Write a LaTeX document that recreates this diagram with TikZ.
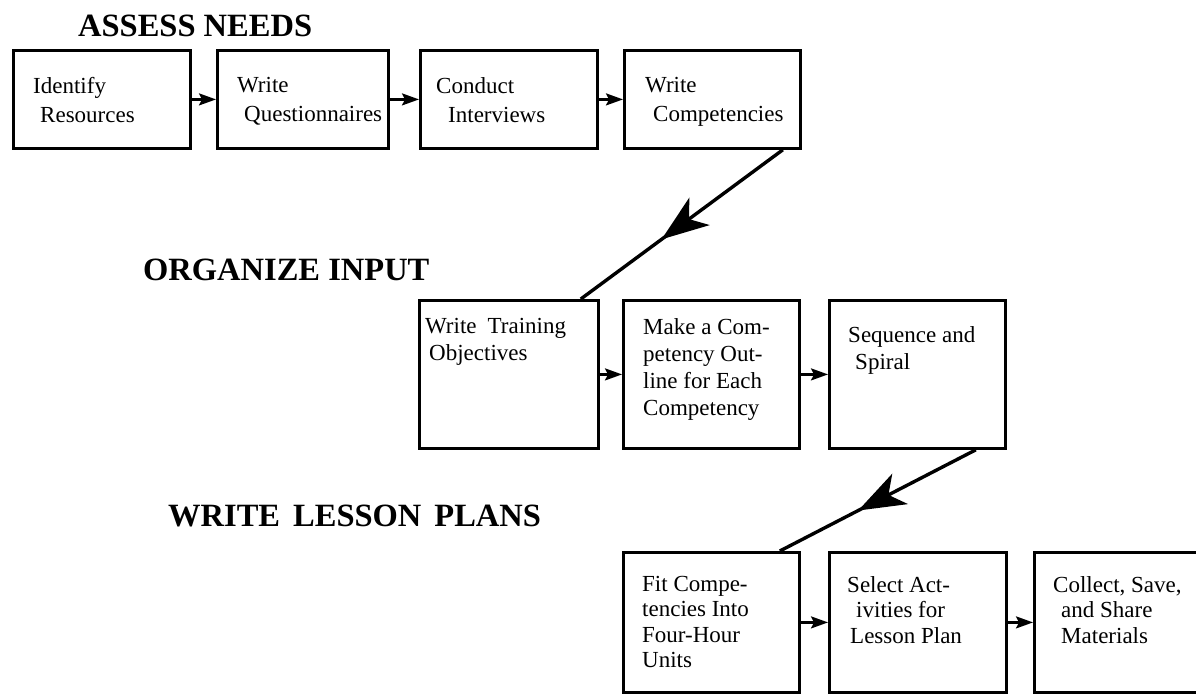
\documentclass[tikz,border=0pt]{standalone}
\usepackage{fontspec}
\setmainfont{Liberation Serif}
\usetikzlibrary{arrows.meta,decorations.markings}
\begin{document}
\begin{tikzpicture}[x=1pt,y=-1pt,
  box/.style={draw,line width=2.8pt,rectangle,inner sep=0pt,anchor=north west},
  boxtext/.style={anchor=north west,inner sep=0pt,align=left,font=\fontsize{23}{27}\selectfont},
  phase/.style={anchor=base west,inner sep=0pt,font=\fontsize{32.5}{38}\selectfont\bfseries},
  flow/.style={line width=2.2pt,-{Stealth[length=17pt,width=12pt,inset=3pt]}},
  bigflow/.style={line width=3.4pt,postaction={decorate},
    decoration={markings,mark=at position 0.6 with {\arrow{Stealth[length=47pt,width=34pt,inset=13pt]}}}},
]
\useasboundingbox (0,0) rectangle (1196,694);

% phase headings
\node[phase] (h1) at (78,36) {ASSESS NEEDS};
\node[phase] (h2) at (143,280) {ORGANIZE INPUT};
\node[phase] (h3) at (168,526) {WRITE\hspace{13pt}LESSON\hspace{13pt}PLANS};

% assess needs
\node[box,minimum width=177pt,minimum height=98pt] (b1) at (12,49) {};
\node[box,minimum width=171pt,minimum height=98pt] (b2) at (216,49) {};
\node[box,minimum width=177pt,minimum height=98pt] (b3) at (419,49) {};
\node[box,minimum width=176pt,minimum height=98pt] (b4) at (623,49) {};
\node[boxtext,font=\fontsize{23}{29}\selectfont] (t1) at (33,77) {Identify\\\hspace*{7pt}Resources};
\node[boxtext,font=\fontsize{23}{29}\selectfont] (t2) at (237,77) {Write\\\hspace*{7pt}Questionnaires};
\node[boxtext,font=\fontsize{23}{29}\selectfont] (t3) at (436,77) {Conduct\\\hspace*{12pt}Interviews};
\node[boxtext,font=\fontsize{23}{29}\selectfont] (t4) at (645,77) {Write\\\hspace*{8pt}Competencies};

% organize input
\node[box,minimum width=179pt,minimum height=148pt] (b5) at (418,299) {};
\node[box,minimum width=176pt,minimum height=148pt] (b6) at (622,299) {};
\node[box,minimum width=176pt,minimum height=148pt] (b7) at (828,299) {};
\node[boxtext] (t5) at (425,318) {Write\hspace{11pt}Training\\\hspace*{4pt}Objectives};
\node[boxtext] (t6) at (643,318) {Make a Com-\\petency Out-\\line for Each\\Competency};
\node[boxtext] (t7) at (848,326) {Sequence and\\\hspace*{7pt}Spiral};

% write lesson plans
\node[box,minimum width=176pt,minimum height=140pt] (b8) at (622,551) {};
\node[box,minimum width=177pt,minimum height=140pt] (b9) at (828,551) {};
\node[box,minimum width=176pt,minimum height=140pt] (b10) at (1033,551) {};
\node[boxtext,font=\fontsize{23}{25.5}\selectfont] (t8) at (642,576) {Fit Compe-\\tencies Into\\Four-Hour\\Units};
\node[boxtext,font=\fontsize{23}{25.5}\selectfont] (t9) at (847,576) {Select Act-\\\hspace*{9pt}ivities for\\\hspace*{3pt}Lesson Plan};
\node[boxtext,font=\fontsize{23}{25.5}\selectfont] (t10) at (1053,576) {Collect, Save,\\\hspace*{8pt}and Share\\\hspace*{8pt}Materials};

% connectors within each phase
\draw[flow] (b1.east) -- (b2.west);
\draw[flow] (b2.east) -- (b3.west);
\draw[flow] (b3.east) -- (b4.west);
\draw[flow] (b5.east) -- (b6.west);
\draw[flow] (b6.east) -- (b7.west);
\draw[flow] (b8.east) -- (b9.west);
\draw[flow] (b9.east) -- (b10.west);

% connectors between phases
\draw[bigflow] ([xshift=-19pt]b4.south east) -- ([xshift=-19pt]b5.north east);
\draw[bigflow] ([xshift=-31pt]b7.south east) -- ([xshift=-21pt]b8.north east);
\end{tikzpicture}
\end{document}
